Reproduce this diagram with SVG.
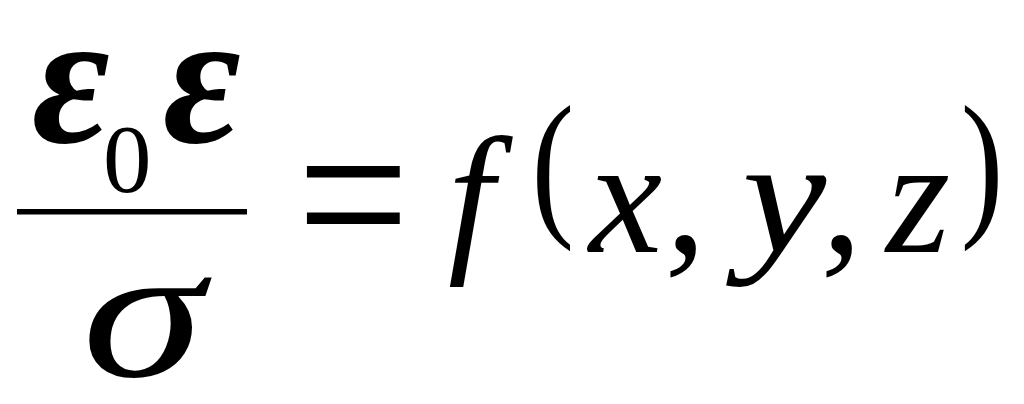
<svg xmlns="http://www.w3.org/2000/svg" width="1024" height="404" viewBox="0 0 1024 404">
<rect width="1024" height="404" fill="#fff"/>
<g id="numerator" font-family="Liberation Serif" fill="#000">
<text transform="translate(32,142)" x="0" y="0" font-size="190" font-style="italic" font-weight="bold">ε</text>
<text x="103" y="192" font-size="97">0</text>
<text transform="translate(163,142)" x="0" y="0" font-size="190" font-style="italic" font-weight="bold">ε</text>
</g>
<g id="bar"><rect x="17" y="209" width="230" height="5.5" fill="#000"/></g>
<g id="denominator" font-family="Liberation Serif" fill="#000"><text transform="translate(82,376) scale(1.3,1)" x="0" y="0" font-size="190" font-style="italic">σ</text></g>
<g id="rhs" font-family="Liberation Serif" fill="#000">
<text transform="translate(307,272) scale(0.86,1)" x="-11.6" y="0" font-size="232">=</text>
<text x="448" y="252" font-size="165" font-style="italic">f</text>
<text transform="translate(535,217) scale(0.8,1)" x="-4.5" y="0" font-size="160">(</text>
<text x="589" y="252" font-size="165" font-style="italic">x</text>
<text x="665" y="252" font-size="165" font-style="italic">,</text>
<text transform="translate(727,252) scale(1.15,1)" x="13" y="0" font-size="165" font-style="italic">y</text>
<text x="821" y="252" font-size="165" font-style="italic">,</text>
<text x="886" y="252" font-size="165" font-style="italic">z</text>
<text transform="translate(964,217) scale(0.8,1)" x="-4" y="0" font-size="160">)</text>
</g>
</svg>
